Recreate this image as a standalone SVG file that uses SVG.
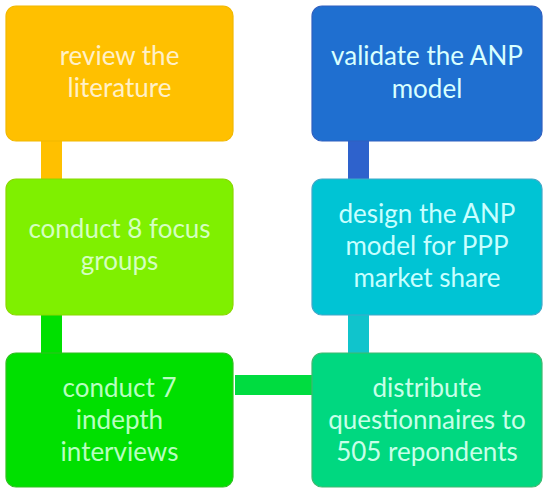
<svg xmlns="http://www.w3.org/2000/svg" width="550" height="495" viewBox="0 0 550 495">
<style>
.box{stroke-width:1.2}
.t{font-family:Lato,"Noto Sans",sans-serif;font-size:26px;text-anchor:middle}
</style>
<rect width="550" height="495" fill="#ffffff"/>
<g id="connectors">
<rect x="41" y="140" width="21" height="40" fill="#FFC000"/>
<rect x="41" y="313" width="21" height="42" fill="#00E000"/>
<rect x="235" y="375" width="79" height="20" fill="#00DC40"/>
<rect x="348" y="140" width="21" height="40" fill="#2E62CC"/>
<rect x="348" y="313" width="21" height="42" fill="#10C4CC"/>
</g>
<g id="n1">
<rect class="box" x="6" y="6" width="227" height="135" rx="10" fill="#FFC000" stroke="#F2B800"/>
<text class="t" x="119.5" y="65" fill="#FFF0C8">review the</text>
<text class="t" x="119.5" y="97" fill="#FFF0C8">literature</text>
</g>
<g id="n2">
<rect class="box" x="6" y="179" width="227" height="136" rx="10" fill="#7FF000" stroke="#8AD800"/>
<text class="t" x="119.5" y="238" fill="#D4FFC0">conduct 8 focus</text>
<text class="t" x="119.5" y="270" fill="#D4FFC0">groups</text>
</g>
<g id="n3">
<rect class="box" x="6" y="353" width="227" height="134" rx="10" fill="#00E000" stroke="#30C020"/>
<text class="t" x="119.5" y="397" fill="#B8FFC0">conduct 7</text>
<text class="t" x="119.5" y="429" fill="#B8FFC0">indepth</text>
<text class="t" x="119.5" y="461" fill="#B8FFC0">interviews</text>
</g>
<g id="n4">
<rect class="box" x="312" y="6" width="230" height="135" rx="10" fill="#1F6FD0" stroke="#3060C0"/>
<text class="t" x="427" y="65" fill="#D8FFFF">validate the ANP</text>
<text class="t" x="427" y="98" fill="#D8FFFF">model</text>
</g>
<g id="n5">
<rect class="box" x="312" y="179" width="230" height="136" rx="10" fill="#00C4D4" stroke="#40A8C8"/>
<text class="t" x="427" y="223" fill="#C8FFFF">design the ANP</text>
<text class="t" x="427" y="255" fill="#C8FFFF">model for PPP</text>
<text class="t" x="427" y="287" fill="#C8FFFF">market share</text>
</g>
<g id="n6">
<rect class="box" x="312" y="353" width="230" height="134" rx="10" fill="#00D880" stroke="#40B870"/>
<text class="t" x="427" y="397" fill="#C8FFE8">distribute</text>
<text class="t" x="427" y="429" fill="#C8FFE8">questionnaires to</text>
<text class="t" x="427" y="461" fill="#C8FFE8">505 repondents</text>
</g>
</svg>
